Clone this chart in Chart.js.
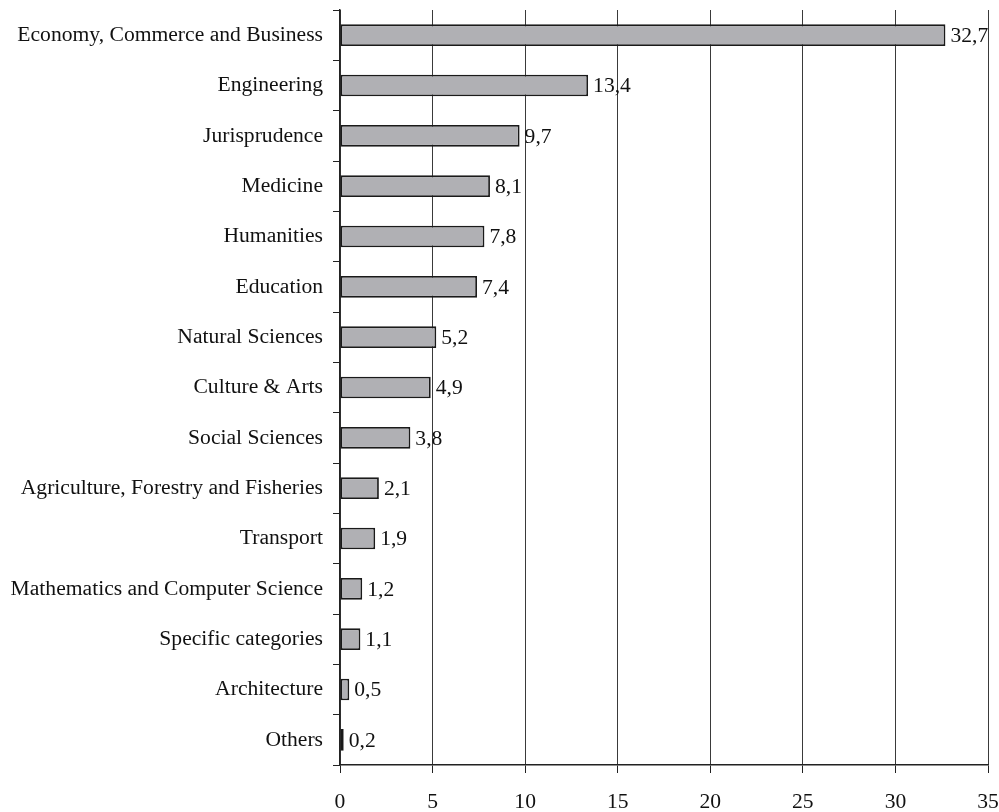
<!DOCTYPE html>
<html>
<head>
<meta charset="utf-8">
<script src="https://cdn.jsdelivr.net/npm/chart.js@4.4.1/dist/chart.umd.min.js"></script>
<style>
  html, body { margin: 0; padding: 0; background: #fff; }
  #wrap { width: 999px; height: 812px; }
</style>
</head>
<body>
<div id="wrap"><canvas id="barChart" width="999" height="812"></canvas></div>
<script>
const categories = [
    'Economy, Commerce and Business',
    'Engineering',
    'Jurisprudence',
    'Medicine',
    'Humanities',
    'Education',
    'Natural Sciences',
    'Culture & Arts',
    'Social Sciences',
    'Agriculture, Forestry and Fisheries',
    'Transport',
    'Mathematics and Computer Science',
    'Specific categories',
    'Architecture',
    'Others'
];
const shares = [32.7, 13.4, 9.7, 8.1, 7.8, 7.4, 5.2, 4.9, 3.8, 2.1, 1.9, 1.2, 1.1, 0.5, 0.2];
const xTicks = [0, 5, 10, 15, 20, 25, 30, 35];

const fontFamily = '"Liberation Serif", "Times New Roman", serif';
const fontSize = 21.6;

// value labels at the end of each bar, with decimal comma
const valueLabels = {
    id: 'valueLabels',
    afterDatasetsDraw(chart) {
        const ctx = chart.ctx;
        const meta = chart.getDatasetMeta(0);
        ctx.save();
        ctx.font = fontSize + 'px ' + fontFamily;
        ctx.fillStyle = '#111';
        ctx.textAlign = 'left';
        ctx.textBaseline = 'middle';
        meta.data.forEach((bar, i) => {
            const txt = shares[i].toFixed(1).replace('.', ',');
            ctx.fillText(txt, bar.x + 5, bar.y + 1);
        });
        ctx.restore();
    }
};

new Chart(document.getElementById('barChart'), {
    type: 'bar',
    data: {
        labels: categories,
        datasets: [{
            data: shares,
            backgroundColor: '#b0b0b4',
            borderColor: '#1a1a1a',
            borderWidth: 1.8,
            borderSkipped: false,
            barPercentage: 0.43,
            categoryPercentage: 1.0
        }]
    },
    options: {
        indexAxis: 'y',
        responsive: false,
        animation: false,
        layout: { padding: { top: 10, right: 11, left: 0, bottom: 0 } },
        plugins: {
            legend: { display: false },
            tooltip: { enabled: false }
        },
        scales: {
            x: {
                min: 0,
                max: 35,
                afterBuildTicks(scale) {
                    scale.ticks = xTicks.map(v => ({ value: v }));
                },
                afterFit(scale) {
                    scale.height = 47;
                    scale.paddingLeft = 0;
                    scale.paddingRight = 0;
                },
                grid: {
                    color: '#3a3a3a',
                    lineWidth: 1,
                    drawTicks: true,
                    tickLength: 8,
                    tickColor: '#222'
                },
                border: { display: true, color: '#222', width: 1.5 },
                ticks: {
                    color: '#111',
                    padding: 16,
                    maxRotation: 0,
                    font: { family: fontFamily, size: fontSize }
                }
            },
            y: {
                afterFit(scale) {
                    scale.width = 340;
                    scale.paddingTop = 0;
                    scale.paddingBottom = 0;
                },
                grid: {
                    drawOnChartArea: false,
                    drawTicks: true,
                    tickLength: 7,
                    tickColor: '#222',
                    offset: true
                },
                border: { display: true, color: '#222', width: 1.5 },
                ticks: {
                    color: '#111',
                    padding: 10,
                    font: { family: fontFamily, size: fontSize }
                }
            }
        }
    },
    plugins: [valueLabels]
});
</script>
</body>
</html>
